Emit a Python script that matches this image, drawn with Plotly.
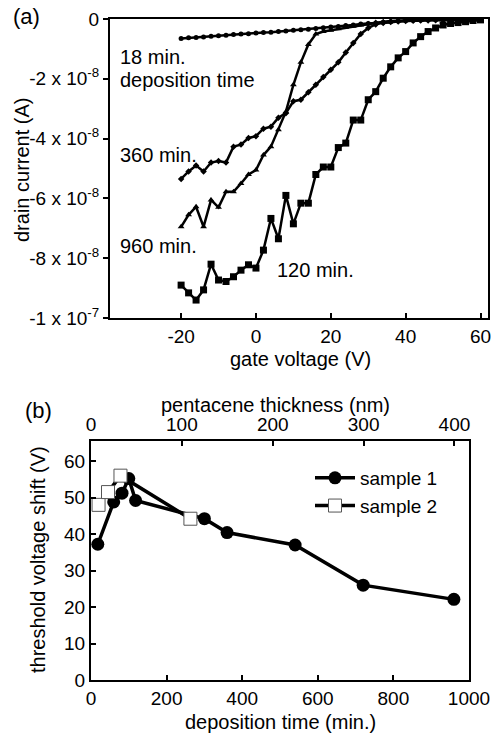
import plotly.graph_objects as go

# ---- panel (a): transfer curves, drain current in units of 1e-8 A ----
gate_v = list(range(-20, 62, 2))

i_18 = [-0.65, -0.63, -0.62, -0.60, -0.58, -0.56, -0.54, -0.52, -0.50, -0.49,
        -0.47, -0.45, -0.44, -0.42, -0.40, -0.38, -0.36, -0.34, -0.32, -0.29,
        -0.27, -0.25, -0.22, -0.20, -0.17, -0.15, -0.13, -0.11, -0.09, -0.07,
        -0.05, -0.04, -0.03, -0.02, -0.02, -0.01, -0.01, -0.01, 0.0, 0.0, 0.0]
i_360 = [-5.35, -5.10, -4.90, -5.10, -4.80, -4.75, -4.80, -4.27, -4.20, -3.98,
         -3.92, -3.67, -3.60, -3.30, -3.15, -2.75, -2.70, -2.45, -2.20, -1.94,
         -1.70, -1.45, -1.12, -0.80, -0.50, -0.30, -0.18, -0.13, -0.10, -0.08,
         -0.07, -0.06, -0.05, -0.05, -0.04, -0.04, -0.03, -0.03, -0.02, -0.02, -0.02]
i_960 = [-6.95, -6.55, -6.28, -6.95, -6.05, -6.30, -5.78, -5.78, -5.50, -5.20,
         -5.05, -4.55, -4.27, -3.70, -3.10, -2.20, -1.45, -0.85, -0.50, -0.42,
         -0.38, -0.33, -0.28, -0.24, -0.20, -0.16, -0.12, -0.09, -0.07, -0.05,
         -0.04, -0.03, -0.03, -0.02, -0.02, -0.02, -0.01, -0.01, -0.01, -0.01, 0.0]
i_120 = [-8.90, -9.16, -9.40, -9.06, -8.20, -8.73, -8.78, -8.62, -8.40, -8.22,
         -8.33, -7.73, -6.67, -7.35, -5.90, -6.85, -6.16, -6.16, -5.20, -4.95,
         -4.95, -4.30, -4.15, -3.38, -3.38, -2.70, -2.43, -1.98, -1.60, -1.30,
         -1.09, -0.80, -0.59, -0.42, -0.30, -0.20, -0.15, -0.12, -0.09, -0.05, -0.03]

x_ticks_a = [-20, 0, 20, 40, 60]
x_labels_a = ["-20", "0", "20", "40", "60"]
y_ticks_a = [0, -2, -4, -6, -8, -10]
y_labels_a = ["0", "-2 x 10<sup>-8</sup>", "-4 x 10<sup>-8</sup>", "-6 x 10<sup>-8</sup>",
              "-8 x 10<sup>-8</sup>", "-1 x 10<sup>-7</sup>"]

# ---- panel (b): threshold voltage shift ----
time_s1 = [18, 60, 82, 100, 118, 300, 360, 540, 720, 960]
vt_s1 = [37.2, 48.8, 51.2, 55.2, 49.2, 44.2, 40.4, 37.0, 26.0, 22.1]
time_s2 = [20, 45, 78, 263]
vt_s2 = [48.0, 51.5, 56.0, 44.2]

FONT = "Liberation Sans, Arial, sans-serif"
TICK_SIZE = 19
TITLE_SIZE = 20
W, H = 491, 734

fig = go.Figure()

curves = [
    (i_18, "circle", 5),
    (i_360, "diamond", 5),
    (i_960, "triangle-up", 6),
    (i_120, "square", 7),
]
for vals, sym, sz in curves:
    fig.add_trace(go.Scatter(
        x=gate_v, y=vals, mode="lines+markers",
        line=dict(color="black", width=2.5),
        marker=dict(symbol=sym, size=sz, color="black"),
        showlegend=False, xaxis="x", yaxis="y",
    ))

fig.add_trace(go.Scatter(
    x=time_s1, y=vt_s1, mode="lines+markers", name="sample 1",
    line=dict(color="black", width=3.5),
    marker=dict(symbol="circle", size=13, color="black"),
    xaxis="x2", yaxis="y2",
))
fig.add_trace(go.Scatter(
    x=time_s2, y=vt_s2, mode="lines+markers", name="sample 2",
    line=dict(color="black", width=3.5),
    marker=dict(symbol="square", size=13, color="white",
                line=dict(color="#555555", width=1)),
    xaxis="x2", yaxis="y2",
))


def px_x(p):
    return p / W


def px_y(p):
    return 1 - p / H


axis_common = dict(
    showgrid=False, zeroline=False, showline=True, linecolor="black",
    linewidth=2, ticklen=5, tickwidth=1.5, tickcolor="black", automargin=False,
    ticklabeloverflow="allow",
    tickfont=dict(family=FONT, size=TICK_SIZE, color="black"),
)

fig.update_layout(
    width=W, height=H,
    margin=dict(l=0, r=0, t=0, b=0),
    plot_bgcolor="white", paper_bgcolor="white",
    font=dict(family=FONT, size=TICK_SIZE, color="black"),
    xaxis=dict(
        domain=[px_x(110), px_x(488)], anchor="y", range=[-39, 62],
        tickvals=x_ticks_a, ticktext=x_labels_a, ticks="inside", mirror=True,
        **axis_common,
    ),
    yaxis=dict(
        domain=[px_y(318), px_y(19)], anchor="x", range=[-10, 0],
        tickvals=y_ticks_a, ticktext=y_labels_a, ticks="outside", mirror=True,
        **axis_common,
    ),
    xaxis2=dict(
        domain=[px_x(91), px_x(469)], anchor="y2", range=[0, 1000],
        tickvals=[0, 200, 400, 600, 800, 1000], ticks="inside",
        **axis_common,
    ),
    yaxis2=dict(
        domain=[px_y(680), px_y(441)], anchor="x2", range=[0, 65.5],
        tickvals=[0, 10, 20, 30, 40, 50, 60], ticks="inside", mirror=True,
        **axis_common,
    ),
    xaxis3=dict(
        overlaying="x2", side="top", anchor="y2", range=[0, 416],
        tickvals=[0, 100, 200, 300, 400], ticks="inside",
        **axis_common,
    ),
    legend=dict(
        x=px_x(310), y=px_y(459), xanchor="left", yanchor="top",
        bgcolor="rgba(0,0,0,0)", font=dict(family=FONT, size=TICK_SIZE),
        tracegroupgap=0, itemwidth=40,
    ),
)

# dummy trace so the top thickness axis is drawn
fig.add_trace(go.Scatter(x=[0, 416], y=[None, None], xaxis="x3", yaxis="y2",
                         showlegend=False, hoverinfo="skip"))

annots = [
    dict(text="(a)", x=px_x(26), y=px_y(17), size=22),
    dict(text="(b)", x=px_x(38), y=px_y(410), size=22),
    dict(text="gate voltage (V)", x=px_x(300), y=px_y(359), size=TITLE_SIZE),
    dict(text="drain current (A)", x=px_x(22), y=px_y(170), size=TITLE_SIZE, angle=-90),
    dict(text="pentacene thickness (nm)", x=px_x(275), y=px_y(405), size=TITLE_SIZE),
    dict(text="deposition time (min.)", x=px_x(280), y=px_y(722), size=TITLE_SIZE),
    dict(text="threshold voltage shift (V)", x=px_x(38), y=px_y(560), size=TITLE_SIZE, angle=-90),
]
for a in annots:
    fig.add_annotation(
        text=a["text"], x=a["x"], y=a["y"], xref="paper", yref="paper",
        xanchor="center", yanchor="middle",
        showarrow=False, textangle=a.get("angle", 0),
        font=dict(family=FONT, size=a["size"], color="black"),
    )

curve_labels = [
    ("18 min.", -36.8, -1.27),
    ("deposition time", -36.8, -2.04),
    ("360 min.", -36.8, -4.55),
    ("960 min.", -36.8, -7.6),
    ("120 min.", 5.2, -8.4),
]
for txt, lx, ly in curve_labels:
    fig.add_annotation(
        text=txt, x=lx, y=ly, xref="x", yref="y", xanchor="left", yanchor="middle",
        showarrow=False, font=dict(family=FONT, size=TITLE_SIZE, color="black"),
    )

# drop the default 8px body margin so the figure fills the window exactly
fig.write_html(
    "out.html",
    config={"displayModeBar": False},
    post_script="document.body.style.margin='0';document.body.style.overflow='hidden';",
)
